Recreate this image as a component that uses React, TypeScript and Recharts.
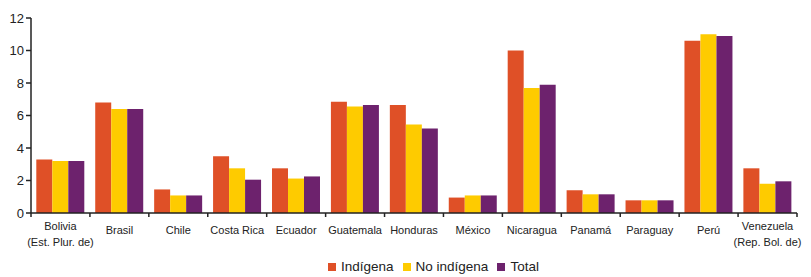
import { BarChart, Bar, XAxis, YAxis } from 'recharts';

const countries = [
  'Bolivia\n(Est. Plur. de)', 'Brasil', 'Chile', 'Costa Rica', 'Ecuador', 'Guatemala', 'Honduras',
  'México', 'Nicaragua', 'Panamá', 'Paraguay', 'Perú', 'Venezuela\n(Rep. Bol. de)',
];
const indigena = [3.3, 6.8, 1.45, 3.5, 2.75, 6.85, 6.65, 0.95, 10.0, 1.4, 0.78, 10.6, 2.75];
const noIndigena = [3.2, 6.4, 1.08, 2.75, 2.12, 6.55, 5.45, 1.08, 7.7, 1.15, 0.78, 11.0, 1.8];
const total = [3.2, 6.4, 1.08, 2.05, 2.25, 6.65, 5.2, 1.08, 7.9, 1.15, 0.78, 10.9, 1.95];
const yTicks = [0, 2, 4, 6, 8, 10, 12];

const COLORS = { ind: '#df5027', noInd: '#fecb00', total: '#6d226d' };
const FONT = '"Liberation Sans", Arial, sans-serif';

const W = 811;
const H = 277;
const LEFT = 31;
const RIGHT = 14;
const BAND = (W - LEFT - RIGHT) / countries.length;

const data = countries.map((name, i) => ({
  name,
  ind: indigena[i],
  noInd: noIndigena[i],
  total: total[i],
}));

function CountryTick(props: any) {
  const { x, y, payload, index } = props;
  const lines = String(payload.value).split('\n');
  const last = index === countries.length - 1;
  return (
    <g>
      <line x1={x - BAND / 2} x2={x - BAND / 2} y1={y} y2={y + 4} stroke="#222" strokeWidth={1.5} />
      {last && <line x1={x + BAND / 2} x2={x + BAND / 2} y1={y} y2={y + 4} stroke="#222" strokeWidth={1.5} />}
      {lines.length === 1 ? (
        <text x={x} y={y + 20.5} textAnchor="middle" fontSize={11} fill="#222" fontFamily={FONT}>{lines[0]}</text>
      ) : (
        lines.map((l, i) => (
          <text key={i} x={x} y={y + 17 + i * 15.5} textAnchor="middle" fontSize={11} fill="#222" fontFamily={FONT}>{l}</text>
        ))
      )}
    </g>
  );
}

const legendItems = [
  { label: 'Indígena', color: COLORS.ind },
  { label: 'No indígena', color: COLORS.noInd },
  { label: 'Total', color: COLORS.total },
];

export default function App() {
  return (
    <div style={{ position: 'absolute', left: 0, top: 0, width: W, height: H, background: '#fff' }}>
      <BarChart
        width={W}
        height={H}
        data={data}
        margin={{ top: 18, right: RIGHT, left: 0, bottom: 0 }}
        barCategoryGap="9%"
        barGap={0}
      >
        <XAxis
          dataKey="name"
          interval={0}
          tickLine={false}
          tickSize={0}
          tickMargin={0}
          height={64}
          axisLine={{ stroke: '#222', strokeWidth: 1.5 }}
          tick={<CountryTick />}
        />
        <YAxis
          width={LEFT}
          domain={[0, 12]}
          ticks={yTicks}
          interval={0}
          tickSize={5}
          tickMargin={2}
          axisLine={{ stroke: '#222', strokeWidth: 1.5 }}
          tickLine={{ stroke: '#222', strokeWidth: 1.5 }}
          tick={{ fontSize: 13, fill: '#222', fontFamily: FONT }}
        />
        <Bar dataKey="ind" fill={COLORS.ind} isAnimationActive={false} />
        <Bar dataKey="noInd" fill={COLORS.noInd} isAnimationActive={false} />
        <Bar dataKey="total" fill={COLORS.total} isAnimationActive={false} />
      </BarChart>
      <div
        style={{
          position: 'absolute',
          left: 328,
          top: 259,
          display: 'flex',
          alignItems: 'center',
          fontFamily: FONT,
          fontSize: 13.5,
          color: '#222',
        }}
      >
        {legendItems.map((it) => (
          <div key={it.label} style={{ display: 'flex', alignItems: 'center', marginRight: 9 }}>
            <span style={{ display: 'inline-block', width: 8, height: 8, background: it.color, marginRight: 5 }} />
            <span>{it.label}</span>
          </div>
        ))}
      </div>
    </div>
  );
}
